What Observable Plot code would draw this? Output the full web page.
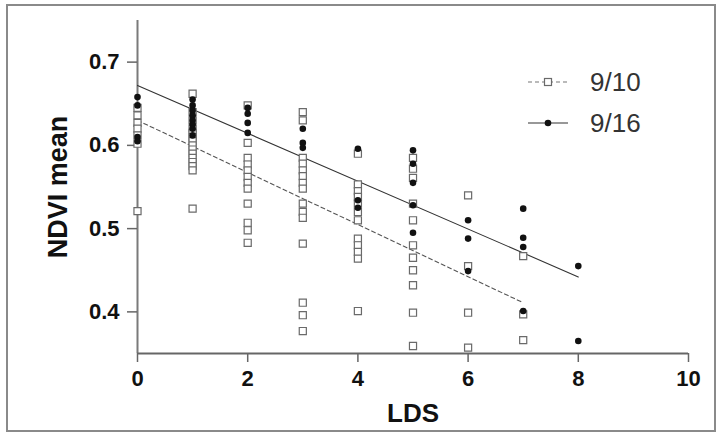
<!DOCTYPE html>
<html>
<head>
<meta charset="utf-8">
<script src="https://cdn.jsdelivr.net/npm/d3@7"></script>
<script src="https://cdn.jsdelivr.net/npm/@observablehq/plot@0.6"></script>
<style>
  html, body { margin: 0; padding: 0; background: #fff; }
  #wrap { position: relative; width: 723px; height: 438px; overflow: hidden; font-family: "Liberation Sans", Arial, sans-serif; }
  #border { position: absolute; left: 6px; top: 4px; width: 710px; height: 428px; border: 2px solid #8a8a8a; box-sizing: border-box; pointer-events: none; }
  #chart { position: absolute; left: 0; top: 0; }
  #legend { position: absolute; left: 520px; top: 58px; }
  svg [aria-label="y-axis label"] text { font-size: 27px; }
  svg [aria-label="x-axis label"] text { font-size: 26px; }
</style>
</head>
<body>
<div id="wrap">
  <div id="chart"></div>
  <div id="legend"></div>
  <div id="border"></div>
</div>
<script>
// LDS categories
const lds = [0, 1, 2, 3, 4, 5, 6, 7, 8];
// NDVI mean values, 9/10 (open squares), grouped by LDS
const ndvi0910 = [
  [0.645, 0.636, 0.627, 0.620, 0.612, 0.602, 0.521],
  [0.662, 0.640, 0.630, 0.620, 0.615, 0.610, 0.605, 0.600, 0.595, 0.590, 0.585, 0.580, 0.575, 0.570, 0.524],
  [0.648, 0.603, 0.585, 0.577, 0.570, 0.562, 0.555, 0.548, 0.530, 0.507, 0.498, 0.483],
  [0.640, 0.630, 0.585, 0.578, 0.570, 0.563, 0.555, 0.548, 0.530, 0.520, 0.513, 0.482, 0.411, 0.396, 0.377],
  [0.590, 0.553, 0.545, 0.538, 0.530, 0.520, 0.510, 0.488, 0.480, 0.472, 0.464, 0.401],
  [0.585, 0.572, 0.561, 0.530, 0.510, 0.480, 0.465, 0.450, 0.432, 0.399, 0.359],
  [0.540, 0.455, 0.399, 0.357],
  [0.467, 0.397, 0.366],
  []
];
// NDVI mean values, 9/16 (filled circles), grouped by LDS
const ndvi0916 = [
  [0.658, 0.648, 0.610, 0.605],
  [0.655, 0.648, 0.642, 0.636, 0.630, 0.625, 0.620, 0.612],
  [0.645, 0.638, 0.627, 0.615],
  [0.620, 0.603, 0.597],
  [0.596, 0.534, 0.525],
  [0.594, 0.578, 0.555, 0.528, 0.495],
  [0.510, 0.488, 0.449],
  [0.524, 0.489, 0.478, 0.401],
  [0.455, 0.365]
];
// fitted regression lines (endpoints)
const fitLDS0910 = [0, 7];
const fitNDVI0910 = [0.630, 0.411];
const fitLDS0916 = [0, 8];
const fitNDVI0916 = [0.672, 0.442];
// ticks
const xTicks = [0, 2, 4, 6, 8, 10];
const yTicks = [0.4, 0.5, 0.6, 0.7];
const seriesNames = ["9/10", "9/16"];

const pts0910 = lds.flatMap((x, i) => ndvi0910[i].map(y => ({x, y})));
const pts0916 = lds.flatMap((x, i) => ndvi0916[i].map(y => ({x, y})));
const fit0910 = fitLDS0910.map((x, i) => ({x, y: fitNDVI0910[i]}));
const fit0916 = fitLDS0916.map((x, i) => ({x, y: fitNDVI0916[i]}));

const plot = Plot.plot({
  width: 723,
  height: 438,
  marginLeft: 137,
  marginRight: 35,
  marginTop: 20,
  marginBottom: 85,
  style: {fontFamily: "'Liberation Sans', Arial, sans-serif", background: "transparent", color: "#111"},
  x: {domain: [0, 10]},
  y: {domain: [0.35, 0.75]},
  marks: [
    Plot.ruleX([0], {stroke: "#7a7a7a", strokeWidth: 2}),
    Plot.ruleY([0.35], {stroke: "#666", strokeWidth: 2}),
    Plot.axisX({ticks: xTicks, tickSize: 9, tickPadding: 8, stroke: "#666", strokeWidth: 1.5,
      fontSize: 22, fontWeight: "bold", fill: "#111", tickFormat: d => d,
      label: "LDS", labelAnchor: "center", labelArrow: "none", labelOffset: 68}),
    Plot.axisY({ticks: yTicks, tickSize: 10, tickPadding: 8, stroke: "#666", strokeWidth: 1.5,
      fontSize: 22, fontWeight: "bold", fill: "#111", tickFormat: d3.format(".1f"),
      label: "NDVI mean", labelAnchor: "center", labelArrow: "none", labelOffset: 90}),
    Plot.line(fit0910, {x: "x", y: "y", stroke: "#555", strokeWidth: 1.1, strokeDasharray: "4,3"}),
    Plot.line(fit0916, {x: "x", y: "y", stroke: "#333", strokeWidth: 1.1}),
    Plot.dot(pts0910, {x: "x", y: "y", symbol: "square", r: 4, stroke: "#6a6a6a", strokeWidth: 1.2, fill: "white"}),
    Plot.dot(pts0916, {x: "x", y: "y", symbol: "circle", r: 3.3, fill: "#111", stroke: "none"})
  ]
});
document.getElementById("chart").appendChild(plot);

// legend (HTML overlay with inline SVG swatches)
const ns = "http://www.w3.org/2000/svg";
const lg = d3.select("#legend").append("svg").attr("width", 150).attr("height", 90);
seriesNames.forEach((name, i) => {
  const g = lg.append("g").attr("transform", `translate(0, ${24 + i * 41})`);
  g.append("line").attr("x1", 8).attr("x2", 48).attr("y1", 0).attr("y2", 0)
    .attr("stroke", i === 0 ? "#777" : "#333").attr("stroke-width", 1.1)
    .attr("stroke-dasharray", i === 0 ? "4,3" : null);
  if (i === 0) {
    g.append("rect").attr("x", 24.5).attr("y", -3.5).attr("width", 7).attr("height", 7)
      .attr("fill", "white").attr("stroke", "#6a6a6a").attr("stroke-width", 1.2);
  } else {
    g.append("circle").attr("cx", 28).attr("cy", 0).attr("r", 3.3).attr("fill", "#111");
  }
  g.append("text").attr("x", 70).attr("y", 0).attr("dy", "0.36em")
    .attr("font-family", "'Liberation Sans', Arial, sans-serif").attr("font-size", 26)
    .attr("fill", "#333").text(name);
});
</script>
</body>
</html>
